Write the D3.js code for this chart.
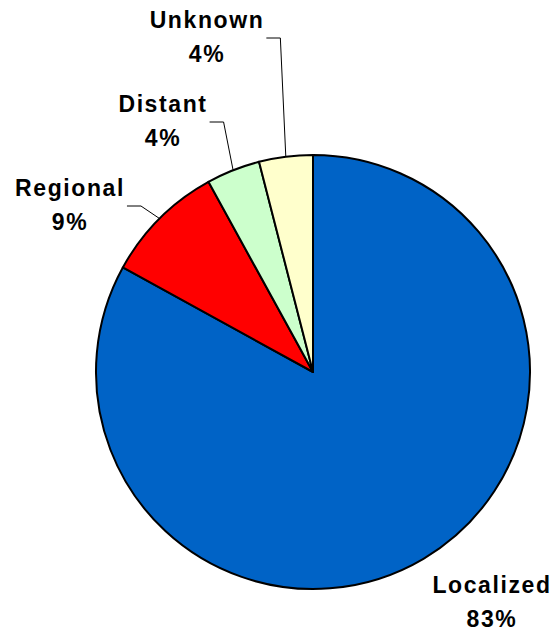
<!DOCTYPE html>
<html>
<head>
<meta charset="utf-8">
<script src="https://cdn.jsdelivr.net/npm/d3@7"></script>
<style>
  body { margin: 0; background: #fff; }
  .label { font-family: "Liberation Sans", Arial, sans-serif; font-weight: bold; font-size: 23px; letter-spacing: 1.6px; fill: #000; }
</style>
</head>
<body>
<div id="chart"></div>
<script>
const categories = ["Localized", "Regional", "Distant", "Unknown"]
const values = [83, 9, 4, 4]
const colors = ["#0063C6", "#FF0000", "#CCFFCC", "#FFFFCC"]
// where each label sits (centre x, first baseline y) and whether it gets a leader line
const labelX = [492, 70, 163, 207]
const labelY = [593, 196, 112, 28]
const hasLeader = [false, true, true, true]

const width = 557
const height = 633
const cx = 313, cy = 372, r = 217

const svg = d3.select("#chart").append("svg")
    .attr("width", width)
    .attr("height", height)

const pie = d3.pie().sort(null).value(d => d)
const arcs = pie(values)
const arc = d3.arc().innerRadius(0).outerRadius(r)

const g = svg.append("g").attr("transform", `translate(${cx},${cy})`)

g.selectAll("path")
    .data(arcs)
    .enter().append("path")
    .attr("d", arc)
    .attr("fill", (d, i) => colors[i])
    .attr("stroke", "#000")
    .attr("stroke-width", 2)
    .attr("stroke-linejoin", "round")

// labels
const labels = svg.selectAll(".label")
    .data(arcs)
    .enter().append("text")
    .classed("label", true)
    .attr("text-anchor", "middle")

labels.append("tspan")
    .attr("x", (d, i) => labelX[i])
    .attr("y", (d, i) => labelY[i])
    .text((d, i) => categories[i])

labels.append("tspan")
    .attr("x", (d, i) => labelX[i])
    .attr("y", (d, i) => labelY[i] + 34)
    .text(d => d.value + "%")

// leader lines from first label line to the slice edge
labels.each(function(d, i) {
    if (!hasLeader[i]) return
    const box = this.firstChild.getBBox()
    const mid = (d.startAngle + d.endAngle) / 2
    const ex = cx + r * Math.sin(mid)
    const ey = cy - r * Math.cos(mid)
    const x0 = box.x + box.width + 2
    const y0 = labelY[i] + 10
    svg.append("polyline")
        .attr("points", `${x0},${y0} ${x0 + 14},${y0} ${ex},${ey}`)
        .attr("fill", "none")
        .attr("stroke", "#000")
        .attr("stroke-width", 1)
})
</script>
</body>
</html>
